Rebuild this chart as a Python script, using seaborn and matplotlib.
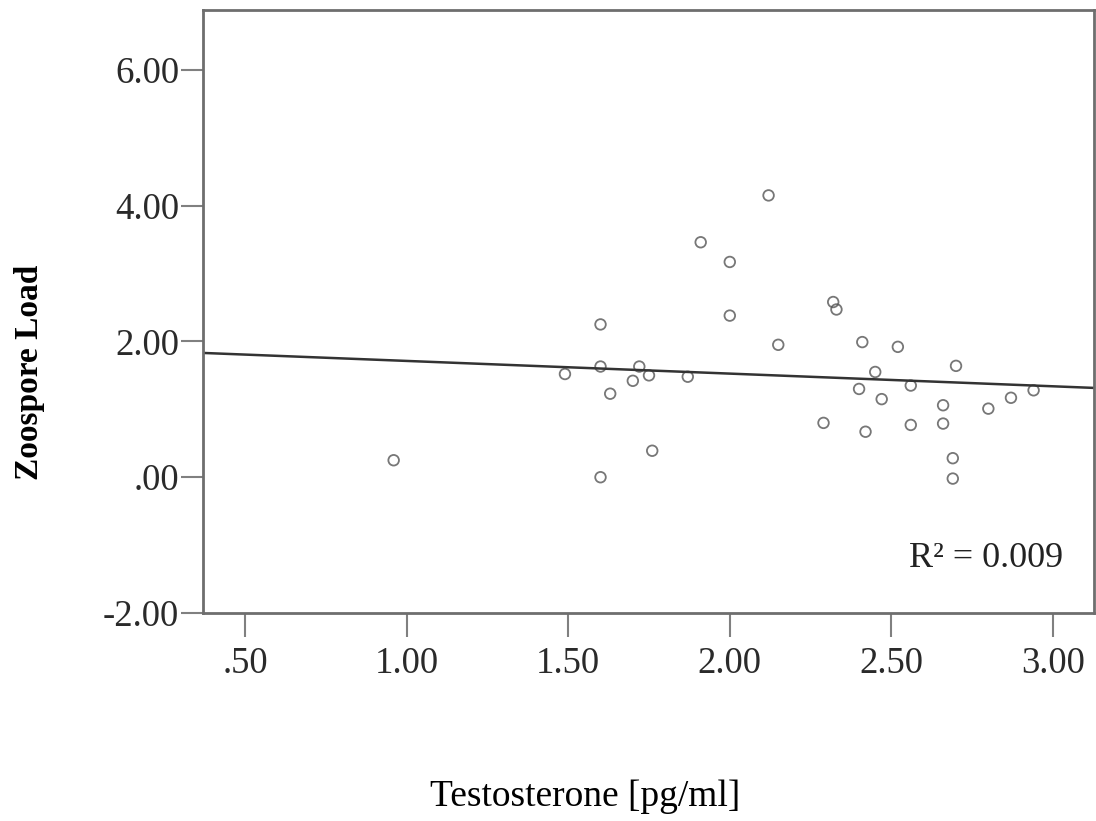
import numpy as np
import pandas as pd
import seaborn as sns
import matplotlib.pyplot as plt

# ---------------- data ----------------
testosterone = [0.96, 1.49, 1.60, 1.60, 1.72, 1.70, 1.75, 1.63, 1.87, 2.00,
                2.15, 1.76, 1.60, 2.32, 2.33, 2.41, 2.52, 2.70, 2.45, 2.40,
                2.56, 2.47, 2.66, 2.80, 2.87, 2.94, 2.29, 2.42, 2.56, 2.66,
                2.69, 2.69, 2.12, 1.91, 2.00]
zoospore_load = [0.25, 1.52, 2.25, 1.63, 1.63, 1.42, 1.50, 1.23, 1.48, 2.38,
                 1.95, 0.39, 0.00, 2.58, 2.47, 1.99, 1.92, 1.64, 1.55, 1.30,
                 1.35, 1.15, 1.06, 1.01, 1.17, 1.28, 0.80, 0.67, 0.77, 0.79,
                 0.28, -0.02, 4.15, 3.46, 3.17]
r2_label = "R² = 0.009"

x_ticks = [0.5, 1.0, 1.5, 2.0, 2.5, 3.0]
x_ticklabels = [".50", "1.00", "1.50", "2.00", "2.50", "3.00"]
y_ticks = [-2, 0, 2, 4, 6]
y_ticklabels = ["-2.00", ".00", "2.00", "4.00", "6.00"]

df = pd.DataFrame({"testosterone": testosterone, "load": zoospore_load})

# ---------------- style ----------------
sns.set_theme(style="white")
plt.rcParams["font.family"] = ["Liberation Serif", "DejaVu Serif"]

fig = plt.figure(figsize=(10.96, 8.21), dpi=100)
ax = fig.add_axes([0.1852, 0.2533, 0.8130, 0.7345])

XLIM = (0.37, 3.127)
YLIM = (-2.0, 6.88)
ax.set_xlim(*XLIM)
ax.set_ylim(*YLIM)

# scatter + OLS line extended over the full x range
sns.regplot(
    data=df, x="testosterone", y="load", ax=ax,
    ci=None, truncate=False,
    scatter_kws=dict(s=58, facecolors="none", edgecolors="#555555", linewidths=1.3),
    line_kws=dict(color="#333333", lw=1.8),
)
ax.set_xlim(*XLIM)
ax.set_ylim(*YLIM)

ax.set_xticks(x_ticks)
ax.set_xticklabels(x_ticklabels)
ax.set_yticks(y_ticks)
ax.set_yticklabels(y_ticklabels)
ax.tick_params(axis="x", direction="out", length=17, width=1.5, color="#808080",
               pad=7, labelsize=26.5, labelcolor="#2a2a2a", bottom=True)
ax.tick_params(axis="y", direction="out", length=16, width=1.5, color="#808080",
               pad=1, labelsize=26.5, labelcolor="#2a2a2a", left=True)

for side in ["left", "bottom", "top", "right"]:
    ax.spines[side].set_color("#6e6e6e")
    ax.spines[side].set_linewidth(2.0)

ax.set_xlabel("")
ax.set_ylabel("")

ax.text(3.03, -1.2, r2_label, ha="right", va="center", fontsize=26, color="#222222")

fig.text(0.534, 0.029, "Testosterone [pg/ml]", ha="center", va="center",
         fontsize=27, color="black")
fig.text(0.027, 0.547, "Zoospore Load", ha="center", va="center",
         rotation=90, fontsize=24, color="black", fontweight="bold")

fig.savefig("out.png", dpi=100)
